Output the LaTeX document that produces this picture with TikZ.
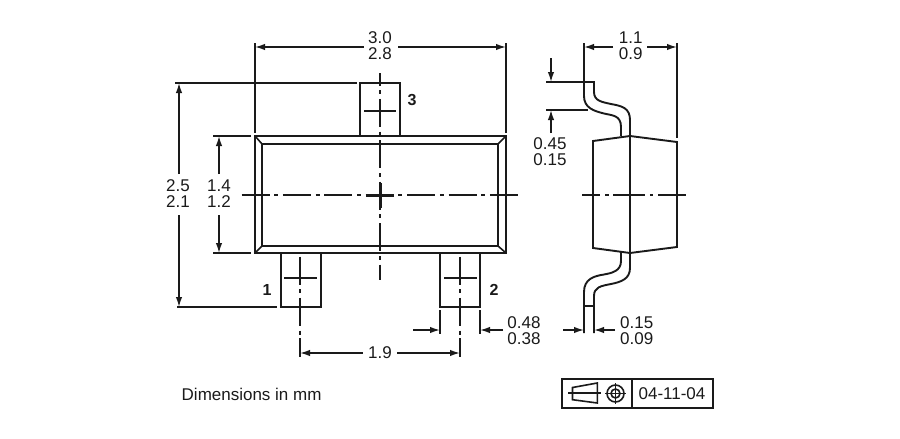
\documentclass[tikz,border=0pt]{standalone}
\usepackage{fontspec}
\usepackage{xcolor}
\usepackage{tikz}
\usetikzlibrary{arrows.meta}
\setmainfont{Liberation Sans}
\definecolor{inkdark}{HTML}{1A1A1A}
\tikzset{
  part/.style={draw=inkdark, line width=1.9pt},
  thin part/.style={draw=inkdark, line width=1.6pt},
  dimline/.style={draw=inkdark, line width=1.5pt},
  dimarrow/.style={draw=inkdark, line width=1.5pt, -{Latex[length=10pt,width=6.5pt]}},
  centerline/.style={draw=inkdark, line width=1.5pt, dash pattern=on 28pt off 4.7pt on 4pt off 4.7pt},
  heavycross/.style={draw=inkdark, line width=3pt},
  dimtext/.style={inkdark, inner sep=0pt, align=center, font=\fontsize{17}{16}\selectfont},
  pintext/.style={inkdark, inner sep=0pt, font=\fontsize{16}{16}\selectfont\bfseries}
}
\begin{document}
\begin{tikzpicture}[x=1pt, y=-1pt]
\useasboundingbox (0,0) rectangle (900,439);
% Points
\coordinate (tl) at (255,136);
\coordinate (tr) at (506,136);
\coordinate (br) at (506,253);
\coordinate (bl) at (255,253);
\coordinate (itl) at (262,144);
\coordinate (itr) at (498,144);
\coordinate (ibr) at (498,246);
\coordinate (ibl) at (262,246);
\coordinate (sl) at (593,141);
\coordinate (st) at (630,136);
\coordinate (sr) at (677,142);
\coordinate (srb) at (677,247);
\coordinate (sb) at (630,253);
\coordinate (slb) at (593,248);

% Labels
\node[dimtext] (w) at (380,46) {3.0\\2.8};
\node[dimtext] (h) at (178,194) {2.5\\2.1};
\node[dimtext] (hb) at (219,194) {1.4\\1.2};
\node[dimtext] (pitch) at (380,353) {1.9};
\node[dimtext] (lw) at (524,331) {0.48\\0.38};
\node[dimtext] (sw) at (630.7,46) {1.1\\0.9};
\node[dimtext] (off) at (550,152) {0.45\\0.15};
\node[dimtext] (lt) at (636.7,331) {0.15\\0.09};
\node[dimtext, anchor=west] (note) at (181.5,394) {Dimensions in mm};
\node[dimtext] (code) at (672,394) {04-11-04};
\node[pintext] (p3) at (412,100) {3};
\node[pintext] (p1) at (267,290) {1};
\node[pintext] (p2) at (494,290) {2};

% Body
\draw[part] (tl) -- (tr) -- (br) -- (bl) -- cycle;
\draw[part] (itl) -- (itr) -- (ibr) -- (ibl) -- cycle;
\draw[thin part] (tl) -- (itl);
\draw[thin part] (tr) -- (itr);
\draw[thin part] (br) -- (ibr);
\draw[thin part] (bl) -- (ibl);

% Leads
\draw[part] (360,136) -- (360,83) -- (400,83) -- (400,136);
\draw[part] (281,253) -- (281,307) -- (321,307) -- (321,253);
\draw[part] (440,253) -- (440,307) -- (480,307) -- (480,253);
\draw[dimline] (364,111) -- (396,111);
\draw[dimline] (284,278) -- (317,278);
\draw[dimline] (444,278) -- (477,278);

% Center lines
\draw[centerline] (241.5,195) -- (518,195);
\draw[centerline, dash phase=15.5pt] (380,73) -- (380,280);
\draw[centerline] (300,256.5) -- (300,335);
\draw[centerline] (460,256.5) -- (460,335);
\draw[heavycross] (366,195) -- (394,195);
\draw[heavycross] (380,183) -- (380,208);

% Top dimension
\draw[dimline] (255,43) -- (255,133);
\draw[dimline] (506,43) -- (506,133);
\draw[dimarrow] (w.west) ++(-4,1) -- (255,47);
\draw[dimarrow] (w.east) ++(6,1) -- (506,47);

% Left dimensions
\draw[dimline] (175,83) -- (357,83);
\draw[dimline] (177,307) -- (277,307);
\draw[dimarrow] (179,174) -- (179,83);
\draw[dimarrow] (179,215) -- (179,307);
\draw[dimline] (213,136) -- (251,136);
\draw[dimline] (213,253) -- (251,253);
\draw[dimarrow] (219,174) -- (219,136);
\draw[dimarrow] (219,215) -- (219,253);

% Bottom dimensions
\draw[dimline] (300,338) -- (300,357);
\draw[dimline] (460,338) -- (460,357);
\draw[dimarrow] (pitch.west) ++(-5,0) -- (300,353);
\draw[dimarrow] (pitch.east) ++(5,0) -- (460,353);
\draw[dimline] (440,310) -- (440,334);
\draw[dimline] (480,310) -- (480,334);
\draw[dimarrow] (413,330) -- (440,330);
\draw[dimarrow] (503,330) -- (480,330);

% Side view
\draw[part] (sl) -- (st) -- (sr) -- (srb) -- (sb) -- (slb) -- cycle;
\draw[part] (st) -- (sb);
\draw[centerline, dash pattern=on 32pt off 4.7pt on 3.5pt off 4.7pt, dash phase=14pt] (582.3,195) -- (686,195);
\draw[part] (584,82) -- (584,96) .. controls (584,108) and (594,111) .. (604,113.5)
  .. controls (612,115.5) and (621,115) .. (621,127) -- (621,136);
\draw[part] (584,82) -- (594,82) -- (594,92) .. controls (594,101) and (602,102) .. (611,104)
  .. controls (622,106) and (630,108) .. (630,120) -- (630,136);
\draw[part] (621,252) -- (621,261) .. controls (621,271) and (612,273) .. (604,274.5)
  .. controls (594,276) and (584,279) .. (584,292) -- (584,333);
\draw[part] (630,252) -- (630,268) .. controls (630,279) and (621,282) .. (611,284)
  .. controls (601,286) and (594,287) .. (594,296) -- (594,333);
\draw[dimline] (584,306) -- (594,306);

% Side view dimensions
\draw[dimline] (584,43) -- (584,82);
\draw[dimline] (677,43) -- (677,138);
\draw[dimarrow] (613,47) -- (584,47);
\draw[dimarrow] (647,47) -- (677,47);
\draw[dimline] (546,82) -- (584,82);
\draw[dimline] (546,110) -- (588,110);
\draw[dimarrow] (551,58) -- (551,82);
\draw[dimarrow] (551,133) -- (551,110);
\draw[dimarrow] (563,330) -- (584,330);
\draw[dimarrow] (615,330) -- (594,330);

% Stamp
\draw[part] (562,379) rectangle (713,408);
\draw[part] (632,379) -- (632,408);
\draw[thin part] (572.5,387.5) -- (597.3,383) -- (597.3,403) -- (572.5,399.7) -- cycle;
\draw[thin part] (568.3,393) -- (601,393);
\draw[thin part] (615.5,393.5) circle (8.5);
\draw[thin part] (615.5,393.5) circle (4.5);
\draw[thin part] (605,393.5) -- (626,393.5);
\draw[thin part] (615.5,383) -- (615.5,404);
\end{tikzpicture}
\end{document}
